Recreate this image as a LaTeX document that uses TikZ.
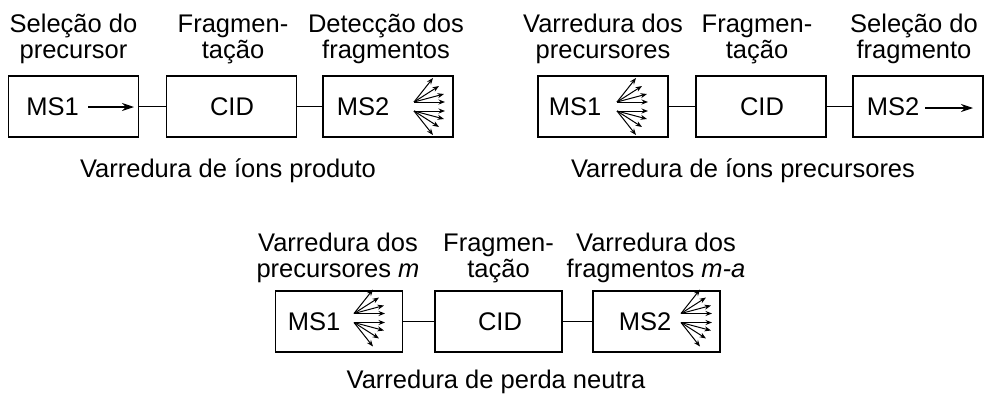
\documentclass[tikz,border=0pt]{standalone}
\usepackage{fontspec}
\setmainfont{Liberation Sans}
\usetikzlibrary{arrows.meta}
\newcommand\ionfan[1]{%
  \foreach \dx/\dy in {19/-24,25/-16,30/-8,31/0}
    \draw[ray] ([yshift=4.5pt]#1) -- ++(\dx,\dy);
  \foreach \dx/\dy in {19/24,25/16,30/8,31/0}
    \draw[ray] ([yshift=-4.5pt]#1) -- ++(\dx,\dy);
}
\begin{document}
\begin{tikzpicture}[x=1pt,y=-1pt,
  box/.style={draw, line width=1.3pt, minimum width=130pt, minimum height=61pt, inner sep=0pt},
  sbox/.style={box, minimum width=127pt},
  lbl/.style={align=center, anchor=south, inner sep=0pt, text depth=0pt, font=\fontsize{25.5}{26.5}\selectfont},
  txt/.style={inner sep=0pt, anchor=base, font=\fontsize{25.5}{26.5}\selectfont},
  link/.style={line width=1pt},
  beam/.style={line width=1.1pt, -{Stealth[length=12pt,width=8pt]}},
  ray/.style={line width=1pt, -{Stealth[length=6.5pt,width=5pt]}},
]
\useasboundingbox (0,0) rectangle (987,394);

% ---------- top left: product ion scan
\node[box] (a1) at (73.5,106.5) {};
\node[box] (a2) at (231.5,106.5) {};
\node[box] (a3) at (388,106.5) {};
\draw[link] (a1.east) -- (a2.west);
\draw[link] (a2.east) -- (a3.west);
\node[txt] (ta1) at (52.5,115.5) {MS1};
\node[txt] (ta2) at (232,115.5) {CID};
\node[txt] (ta3) at (363,115.5) {MS2};
\coordinate (as) at (88,107);
\coordinate (ae) at (134,107);
\draw[beam] (as) -- (ae);
\coordinate (af) at (414,106.5);
\ionfan{af}
\node[lbl] (la1) at (73.5,59) {Seleção do\\precursor};
\node[lbl] (la2) at (233,59) {Fragmen-\\tação};
\node[lbl] (la3) at (386,59) {Detecção dos\\fragmentos};
\node[txt] (tta) at (228,177) {Varredura de íons produto};

% ---------- top right: precursor ion scan
\node[box] (b1) at (603,106.5) {};
\node[box] (b2) at (761,106.5) {};
\node[box] (b3) at (918,106.5) {};
\draw[link] (b1.east) -- (b2.west);
\draw[link] (b2.east) -- (b3.west);
\node[txt] (tb1) at (575,115.5) {MS1};
\node[txt] (tb2) at (762,115.5) {CID};
\node[txt] (tb3) at (893,115.5) {MS2};
\coordinate (bf) at (617,106.5);
\ionfan{bf}
\coordinate (bs) at (925,108);
\coordinate (be) at (973,108);
\draw[beam] (bs) -- (be);
\node[lbl] (lb1) at (603,59) {Varredura dos\\precursores};
\node[lbl] (lb2) at (757,59) {Fragmen-\\tação};
\node[lbl] (lb3) at (914,59) {Seleção do\\fragmento};
\node[txt] (ttb) at (743,177) {Varredura de íons precursores};

% ---------- bottom: neutral loss scan
\node[sbox] (c1) at (339,321.5) {};
\node[sbox] (c2) at (498.5,321.5) {};
\node[sbox] (c3) at (656.5,321.5) {};
\draw[link] (c1.east) -- (c2.west);
\draw[link] (c2.east) -- (c3.west);
\node[txt] (tc1) at (314,330.5) {MS1};
\node[txt] (tc2) at (500,330.5) {CID};
\node[txt] (tc3) at (645,330.5) {MS2};
\coordinate (cf1) at (354,318);
\ionfan{cf1}
\coordinate (cf2) at (681,318);
\ionfan{cf2}
\node[lbl] (lc1) at (338,278) {Varredura dos\\precursores \textit{m}};
\node[lbl] (lc2) at (498.5,278) {Fragmen-\\tação};
\node[lbl] (lc3) at (656,278) {Varredura dos\\fragmentos \textit{m-a}};
\node[txt] (ttc) at (496,388) {Varredura de perda neutra};
\end{tikzpicture}
\end{document}
